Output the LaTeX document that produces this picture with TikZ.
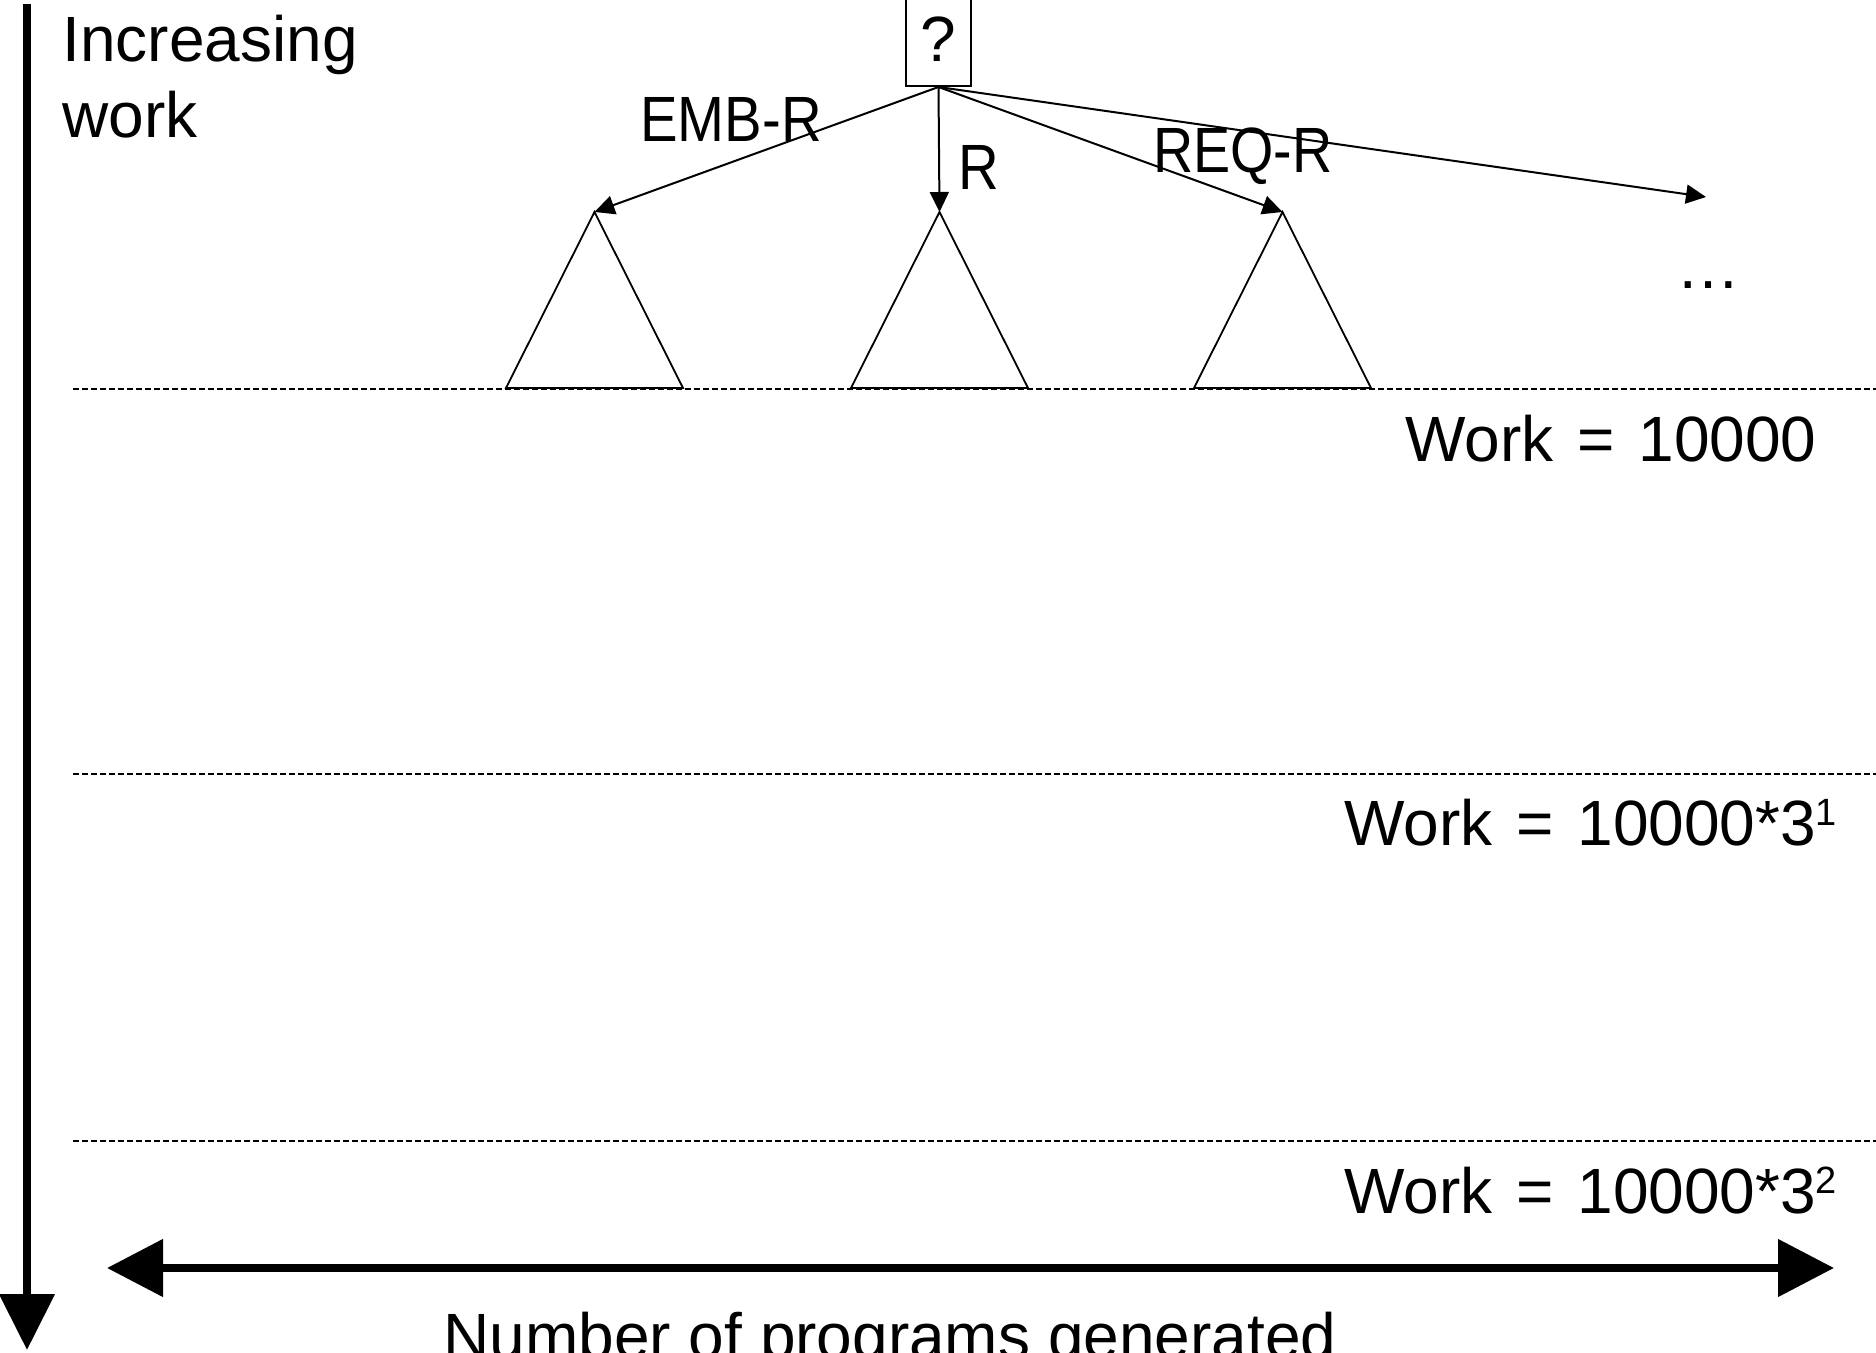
\documentclass[tikz,border=0pt]{standalone}
\usepackage{fontspec}
\setmainfont{Liberation Sans}
\usetikzlibrary{arrows.meta}
\newcommand{\supdigit}[1]{\raisebox{10pt}{\fontsize{19pt}{19pt}\selectfont #1}}
\newcommand{\eqsp}{\ \hspace{3pt}=\hspace{3pt}\ }
\begin{document}
\begin{tikzpicture}[x=0.5pt,y=-0.5pt,
  txt/.style={inner sep=0pt, font=\fontsize{32pt}{38pt}\selectfont},
  thinarrow/.style={line width=1pt, -{Triangle[length=10pt,width=9.5pt]}},
  level/.style={line width=1.2pt, dash pattern=on 3pt off 1.5pt},
  tri/.style={line width=0.9pt, line join=miter},
  bigarrow/.style={line width=4pt, -{Triangle[length=28pt,width=27pt]}},
  dblarrow/.style={line width=4pt, {Triangle[length=28pt,width=28pt]}-{Triangle[length=28pt,width=28pt]}}]

\useasboundingbox (0,0) rectangle (1876,1353);
\clip (0,0) rectangle (1876,1353);

% dashed work levels
\coordinate (l1a) at (73,389);  \coordinate (l1b) at (1876,389);
\coordinate (l2a) at (73,774);  \coordinate (l2b) at (1876,774);
\coordinate (l3a) at (73,1141); \coordinate (l3b) at (1876,1141);
\draw[level] (l1a) -- (l1b);
\draw[level] (l2a) -- (l2b);
\draw[level] (l3a) -- (l3b);

% subtrees
\coordinate (t1) at (594.5,212);
\coordinate (t2) at (939.5,212);
\coordinate (t3) at (1282.5,212);
\draw[tri] (t1) -- ++(-88.5,176) -- ++(177,0) -- cycle;
\draw[tri] (t2) -- ++(-88.5,176) -- ++(177,0) -- cycle;
\draw[tri] (t3) -- ++(-88.5,176) -- ++(177,0) -- cycle;
\coordinate (more) at (1706,197);

% root box
\node[txt, draw, line width=1pt, anchor=south, minimum width=32.5pt,
      text depth=12pt, text height=41.5pt] (q) at (938.5,87) {?};

\draw[thinarrow] (q.south) -- (t1);
\draw[thinarrow] (q.south) -- (t2);
\draw[thinarrow] (q.south) -- (t3);
\draw[thinarrow] (q.south) -- (more);

% edge labels
\node[txt, anchor=base] (emb) at (731,142) {\scalebox{0.88}[1]{EMB-R}};
\node[txt, anchor=base west] (rl) at (958,190) {\scalebox{0.88}[1]{R}};
\node[txt, anchor=base] (req) at (1243,173) {\scalebox{0.87}[1]{REQ-R}};
\node[txt, anchor=base] (dots) at (1708,289) {…};

% axis labels
\node[txt, anchor=base west] (inc) at (62,62) {Increasing};
\node[txt, anchor=base west] (wk) at (62,138) {work};
\node[txt, anchor=base] (num) at (890,1358) {Number of programs generated};

% work labels
\node[txt, anchor=base west] (w1) at (1405,462) {Work\eqsp 10000};
\node[txt, anchor=base west] (w2) at (1344,845) {Work\eqsp 10000*3\supdigit{1}};
\node[txt, anchor=base west] (w3) at (1344,1213) {Work\eqsp 10000*3\supdigit{2}};

% axes
\coordinate (vtop) at (27,4);   \coordinate (vbot) at (27,1350);
\draw[bigarrow] (vtop) -- (vbot);
\coordinate (hl) at (107,1268); \coordinate (hr) at (1834,1268);
\draw[dblarrow] (hl) -- (hr);
\end{tikzpicture}
\end{document}
